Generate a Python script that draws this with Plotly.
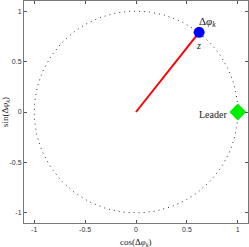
import numpy as np
import plotly.graph_objects as go

# data
circle_deg = list(range(0, 361, 2))
agent_cos = [0.62]
agent_sin = [0.79]
leader_cos = [1.0]
leader_sin = [0.0]
tick_vals = [-1, -0.5, 0, 0.5, 1]
tick_text = ["-1", "-0.5", "0", "0.5", "1"]

th = np.deg2rad(circle_deg)
fig = go.Figure()
fig.add_trace(go.Scatter(x=np.cos(th), y=np.sin(th), mode="lines",
                         line=dict(color="#333333", width=1, dash="1px,4px"),
                         hoverinfo="skip"))
fig.add_trace(go.Scatter(x=[0, agent_cos[0]], y=[0, agent_sin[0]], mode="lines",
                         line=dict(color="red", width=2)))
fig.add_trace(go.Scatter(x=agent_cos, y=agent_sin, mode="markers",
                         marker=dict(color="blue", size=11)))
fig.add_trace(go.Scatter(x=leader_cos, y=leader_sin, mode="markers",
                         marker=dict(color="#00ee00", size=13, symbol="diamond")))

serif = "Liberation Serif"
fig.add_annotation(x=agent_cos[0], y=agent_sin[0], text="Δ<i>φ<sub>k</sub></i>",
                   showarrow=False, xanchor="left", yanchor="bottom",
                   xshift=-2, yshift=1, font=dict(family=serif, size=11, color="#222"))
fig.add_annotation(x=agent_cos[0], y=agent_sin[0], text="<i>z</i>",
                   showarrow=False, xanchor="center", yanchor="top",
                   xshift=-1, yshift=-6, font=dict(family=serif, size=10, color="#222"))
fig.add_annotation(x=leader_cos[0], y=leader_sin[0], text="Leader",
                   showarrow=False, xanchor="right", yanchor="middle",
                   xshift=-9, yshift=-2, font=dict(family=serif, size=10, color="#222"))
fig.add_annotation(x=0, y=0, xref="x", yref="paper", text="cos(Δ<i>φ<sub>k</sub></i>)",
                   showarrow=False, xanchor="center", yanchor="top", yshift=-12,
                   font=dict(family=serif, size=9, color="#222"))
fig.add_annotation(x=0, y=0, xref="paper", yref="y", text="sin(Δ<i>φ<sub>k</sub></i>)",
                   showarrow=False, xanchor="center", yanchor="middle", xshift=-19,
                   textangle=-90, font=dict(family=serif, size=9, color="#222"))

axis_common = dict(range=[-1.1, 1.1], tickvals=tick_vals, ticktext=tick_text,
                   ticks="inside", ticklen=3, tickcolor="#555", showline=True,
                   linecolor="#777", linewidth=1, mirror="ticks", showgrid=False,
                   zeroline=False, automargin=False,
                   tickfont=dict(family="Liberation Sans", size=7, color="#333"))
fig.update_xaxes(**axis_common)
fig.update_yaxes(**axis_common)
fig.update_layout(width=249, height=247, showlegend=False,
                  margin=dict(l=24, r=1, t=1, b=24),
                  plot_bgcolor="white", paper_bgcolor="white")
fig.write_html("out.html", config={"displayModeBar": False},
               post_script="document.body.style.margin='0';document.body.style.overflow='hidden';")
